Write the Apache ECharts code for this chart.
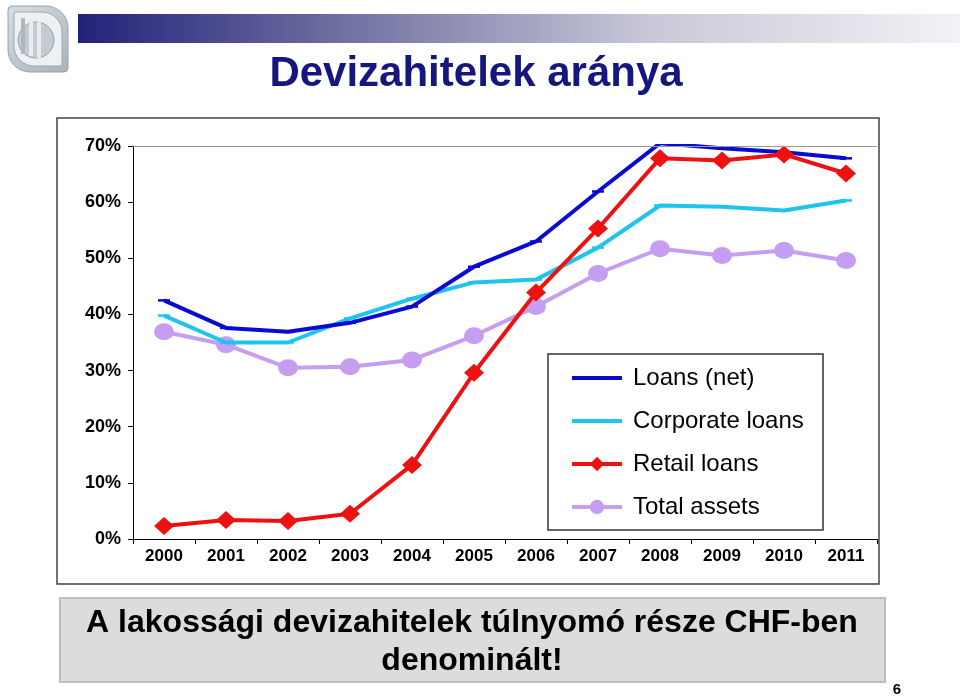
<!DOCTYPE html>
<html><head><meta charset="utf-8">
<script src="https://cdn.jsdelivr.net/npm/echarts@6/dist/echarts.min.js"></script>
<style>html,body{margin:0;padding:0;background:#fff}#c{width:960px;height:696px}</style>
</head><body><div id="c"></div>
<script>
const years = ['2000','2001','2002','2003','2004','2005','2006','2007','2008','2009','2010','2011'];
const loansNet = [42.5,37.6,36.9,38.5,41.4,48.5,53.0,61.9,70.5,69.6,68.9,67.8];
const corporate = [39.8,35.0,35.0,39.3,42.8,45.7,46.2,51.9,59.4,59.2,58.5,60.3];
const retail = [2.3,3.4,3.2,4.5,13.2,29.6,43.9,55.3,67.8,67.4,68.5,65.1];
const totalAssets = [36.9,34.6,30.5,30.7,31.9,36.2,41.4,47.3,51.7,50.5,51.4,49.6];
const seriesNames = ['Loans (net)','Corporate loans','Retail loans','Total assets'];
const yTicks = {min:0, max:70, interval:10};
const titleText = 'Devizahitelek aránya';
const noteLines = ['A lakossági devizahitelek túlnyomó része CHF-ben','denominált!'];
const pageNo = '6';

const chart = echarts.init(document.getElementById('c'), null, {renderer:'canvas'});
const F = '"Liberation Sans", Arial, sans-serif';
const lineIcon = 'path://M0,0H52V4H0Z';
chart.setOption({
  backgroundColor:'#fff',
  animation:false,
  grid:{left:133, right:83, top:146, bottom:157, containLabel:false},
  legend:{
    orient:'vertical', left:570, top:366, padding:0, z:20,
    itemWidth:50, itemHeight:18, itemGap:19,
    lineStyle:{width:4},
    textStyle:{fontFamily:F, fontSize:24, color:'#000', lineHeight:24, padding:[0,0,0,6]},
    data:[
      {name:seriesNames[0], icon:lineIcon},
      {name:seriesNames[1], icon:lineIcon},
      {name:seriesNames[2]},
      {name:seriesNames[3]}
    ]
  },
  xAxis:{
    type:'category', data:years, boundaryGap:true,
    axisLine:{lineStyle:{color:'#000', width:1}},
    axisTick:{show:true, length:5, inside:false, lineStyle:{color:'#000'}},
    axisLabel:{fontFamily:F, fontWeight:'bold', fontSize:17, color:'#000', margin:9}
  },
  yAxis:{
    type:'value', min:yTicks.min, max:yTicks.max, interval:yTicks.interval,
    axisLine:{show:true, lineStyle:{color:'#000', width:1}},
    axisTick:{show:true, length:5, lineStyle:{color:'#000'}},
    axisLabel:{fontFamily:F, fontWeight:'bold', fontSize:18, color:'#000', margin:12, formatter:'{value}%'},
    splitLine:{show:false}
  },
  series:[
    {name:seriesNames[0], type:'line', data:loansNet, z:3,
     lineStyle:{color:'#0A0AD2', width:4}, itemStyle:{color:'#0A0AD2'},
     symbol:'rect', symbolSize:[12,2.5], showSymbol:true,
     markLine:{silent:true, symbol:['none','none'], label:{show:false},
       lineStyle:{color:'#999', width:1, type:'solid'}, data:[{yAxis:yTicks.max}]}},
    {name:seriesNames[1], type:'line', data:corporate, z:2,
     lineStyle:{color:'#1EC4EE', width:4}, itemStyle:{color:'#1EC4EE'},
     symbol:'rect', symbolSize:[12,2.5]},
    {name:seriesNames[2], type:'line', data:retail, z:4,
     lineStyle:{color:'#EE1111', width:4}, itemStyle:{color:'#EE1111'},
     symbol:'diamond', symbolSize:[20,18]},
    {name:seriesNames[3], type:'line', data:totalAssets, z:1,
     lineStyle:{color:'#C59EF2', width:4}, itemStyle:{color:'#C59EF2'},
     symbol:'circle', symbolSize:[20,17]}
  ],
  graphic:[
    // logo
    {type:'rect', shape:{x:8,y:6,width:60,height:66,r:[4,22,4,22]}, style:{fill:{type:'linear',x:0,y:0,x2:1,y2:1,colorStops:[{offset:0,color:'#d8dde2'},{offset:1,color:'#aab2ba'}]}, stroke:'#9aa2aa', lineWidth:1}},
    {type:'rect', shape:{x:14,y:12,width:48,height:54,r:[2,20,2,20]}, style:{fill:'#eef1f4', stroke:'#a0a8b0', lineWidth:1}},
    {type:'circle', shape:{cx:36,cy:40,r:18}, style:{fill:'#c4cbd2', stroke:'#98a0a8', lineWidth:1}},
    {type:'rect', shape:{x:21,y:18,width:4,height:36}, style:{fill:'#aeb6be'}},
    {type:'rect', shape:{x:29,y:20,width:4,height:36}, style:{fill:'#e8ecef'}},
    {type:'rect', shape:{x:37,y:22,width:4,height:36}, style:{fill:'#e8ecef'}},
    // top bar
    {type:'rect', shape:{x:78,y:14,width:882,height:29}, style:{fill:{type:'linear',x:0,y:0,x2:1,y2:0,colorStops:[{offset:0,color:'#22227a'},{offset:0.3,color:'#7070a2'},{offset:0.65,color:'#c8c8d8'},{offset:1,color:'#f2f2f6'}]}}},
    // title
    {type:'text', x:476, y:74, style:{text:titleText, font:'bold 42px '+F, fill:'#16167f', align:'center', verticalAlign:'middle'}},
    // chart frame
    {type:'rect', shape:{x:57,y:118,width:822,height:466}, style:{fill:'none', stroke:'#444', lineWidth:1.5}, z:-1},
    // legend box
    {type:'rect', shape:{x:548,y:354,width:275,height:176}, style:{fill:'#fff', stroke:'#333', lineWidth:1.5}, z:5, silent:true},
    // bottom note box
    {type:'rect', shape:{x:60,y:598,width:825,height:84}, style:{fill:'#dcdcdc', stroke:'#bdbdbd', lineWidth:2}},
    {type:'text', x:472, y:623, style:{text:noteLines[0], font:'bold 32px '+F, fill:'#000', align:'center', verticalAlign:'middle'}},
    {type:'text', x:472, y:661, style:{text:noteLines[1], font:'bold 32px '+F, fill:'#000', align:'center', verticalAlign:'middle'}},
    {type:'text', x:897, y:690, style:{text:pageNo, font:'bold 15px '+F, fill:'#000', align:'center', verticalAlign:'middle'}}
  ]
});
</script></body></html>
